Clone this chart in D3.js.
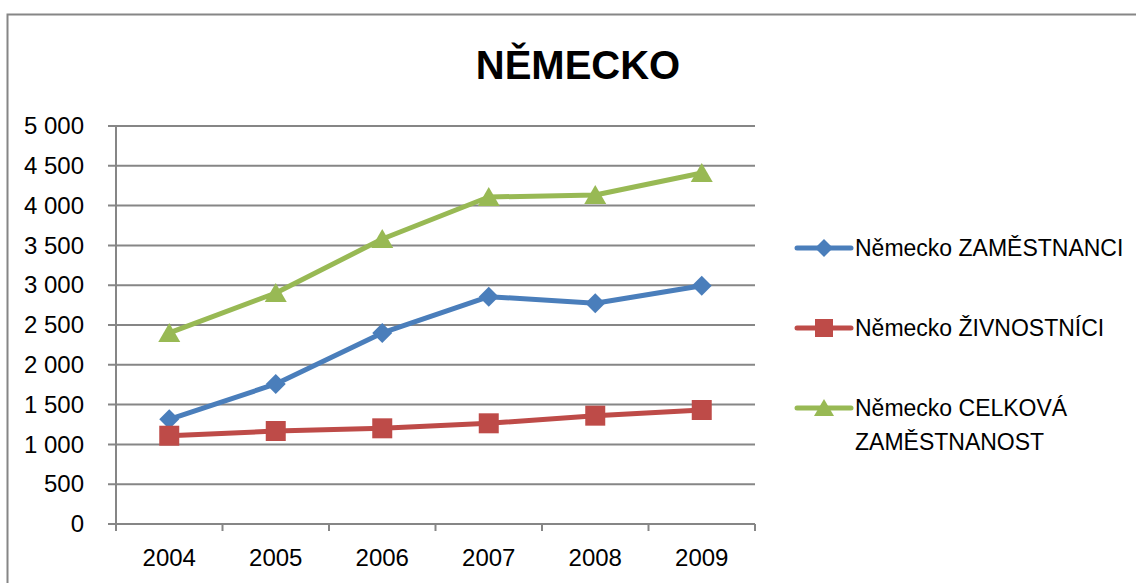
<!DOCTYPE html>
<html>
<head>
<meta charset="utf-8">
<script src="https://cdn.jsdelivr.net/npm/d3@7"></script>
<style>
  body { margin: 0; background: #fff; }
  svg text { font-family: "Liberation Sans", "DejaVu Sans", sans-serif; fill: #000; }
</style>
</head>
<body>
<svg id="chart" width="1136" height="583"></svg>
<script>
const years = ["2004", "2005", "2006", "2007", "2008", "2009"];
const zamestnanci = [1315, 1759, 2400, 2856, 2773, 2994];
const zivnostnici = [1109, 1168, 1202, 1265, 1361, 1432];
const celkova = [2400, 2902, 3580, 4108, 4133, 4410];
const yTicks = [0, 500, 1000, 1500, 2000, 2500, 3000, 3500, 4000, 4500, 5000];

const series = [
  { name: ["Německo ZAMĚSTNANCI"], values: zamestnanci, color: "#4a7ebb", marker: "diamond" },
  { name: ["Německo ŽIVNOSTNÍCI"], values: zivnostnici, color: "#be4b48", marker: "square" },
  { name: ["Německo CELKOVÁ", "ZAMĚSTNANOST"], values: celkova, color: "#98b954", marker: "triangle" },
];

const svg = d3.select("#chart");

// outer chart frame (runs off the right and bottom edge)
svg.append("rect")
  .attr("x", 7.5).attr("y", 14.5)
  .attr("width", 1140).attr("height", 600)
  .attr("fill", "none").attr("stroke", "#868686").attr("stroke-width", 2);

const margin = { left: 116, top: 126, right: 755, bottom: 524 };

const x = d3.scaleBand().domain(years).range([margin.left, margin.right]);
const y = d3.scaleLinear().domain([0, 5000]).range([margin.bottom, margin.top]);

// title
svg.append("text")
  .attr("x", 578).attr("y", 79)
  .attr("text-anchor", "middle")
  .style("font-size", "40px").style("font-weight", "bold")
  .text("NĚMECKO");

// gridlines
svg.append("g")
  .selectAll("line")
  .data(yTicks)
  .join("line")
  .attr("x1", margin.left - 8).attr("x2", margin.right)
  .attr("y1", (d) => y(d)).attr("y2", (d) => y(d))
  .attr("stroke", "#868686").attr("stroke-width", 2);

// y axis
const fmt = (d) => d3.format(",")(d).replace(",", " ");
const yAxis = d3.axisLeft(y).tickValues(yTicks).tickFormat(fmt).tickSize(0).tickPadding(32);
const gy = svg.append("g").attr("transform", `translate(${margin.left},0)`).call(yAxis);
gy.select(".domain").remove();
gy.selectAll("text").style("font-size", "24px").attr("font-family", null);
svg.append("line")
  .attr("x1", margin.left).attr("x2", margin.left)
  .attr("y1", margin.top).attr("y2", margin.bottom + 7)
  .attr("stroke", "#868686").attr("stroke-width", 2);

// x axis
const xAxis = d3.axisBottom(x).tickSize(0).tickPadding(25);
const gx = svg.append("g").attr("transform", `translate(0,${margin.bottom})`).call(xAxis);
gx.select(".domain").remove();
gx.selectAll("text").style("font-size", "24px").attr("font-family", null);
const edges = years.map((d) => x(d)).concat([margin.right]);
svg.append("g")
  .selectAll("line")
  .data(edges)
  .join("line")
  .attr("x1", (d) => d).attr("x2", (d) => d)
  .attr("y1", margin.bottom).attr("y2", margin.bottom + 7)
  .attr("stroke", "#868686").attr("stroke-width", 2);

function markerPath(type, r) {
  if (type === "diamond") return `M0,${-r}L${r},0L0,${r}L${-r},0Z`;
  if (type === "square") return `M${-r},${-r}H${r}V${r}H${-r}Z`;
  return `M0,${-r}L${r + 1},${r - 1}H${-r - 1}Z`;
}

const cx = (i) => x(years[i]) + x.bandwidth() / 2;

const line = d3.line()
  .x((d, i) => cx(i))
  .y((d) => y(d));

series.forEach((s) => {
  svg.append("path")
    .datum(s.values)
    .attr("fill", "none")
    .attr("stroke", s.color)
    .attr("stroke-width", 5)
    .attr("stroke-linejoin", "round")
    .attr("stroke-linecap", "round")
    .attr("d", line);

  svg.append("g")
    .selectAll("path")
    .data(s.values)
    .join("path")
    .attr("transform", (d, i) => `translate(${cx(i)},${y(d)})`)
    .attr("d", markerPath(s.marker, 10))
    .attr("fill", s.color);
});

// legend
const legendY = [248, 328, 408];
series.forEach((s, i) => {
  const g = svg.append("g").attr("transform", `translate(797,${legendY[i]})`);
  g.append("line")
    .attr("x1", 0).attr("x2", 54)
    .attr("stroke", s.color).attr("stroke-width", 5)
    .attr("stroke-linecap", "round");
  g.append("path")
    .attr("transform", "translate(27,0)")
    .attr("d", markerPath(s.marker, 9))
    .attr("fill", s.color);
  g.selectAll("text")
    .data(s.name)
    .join("text")
    .attr("x", 58)
    .attr("y", (d, j) => j * 34 + 8)
    .style("font-size", "23px")
    .text((d) => d);
});
</script>
</body>
</html>
